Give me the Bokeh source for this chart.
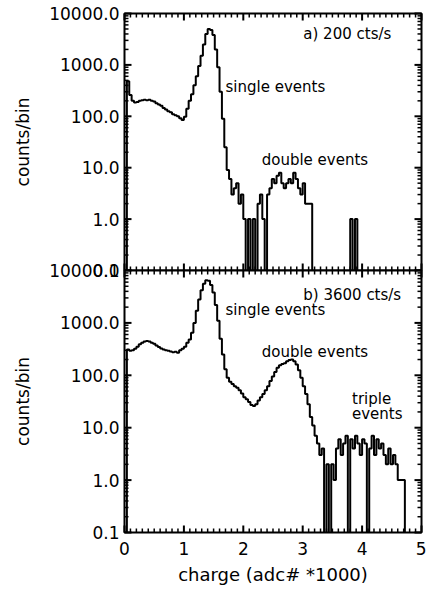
import numpy as np
from bokeh.plotting import figure
from bokeh.layouts import column
from bokeh.models import SingleIntervalTicker, LogTicker, CustomJSTickFormatter, ColumnDataSource
from bokeh.core.properties import value
from bokeh.embed import file_html
from bokeh.resources import INLINE

# Pulse-height histograms, charge in units of 1000 adc channels, bins of 0.04
BIN = 0.04
N_BINS = 125
edges = np.round(np.arange(N_BINS) * BIN, 2)

# a) 200 cts/s  -- counts per bin starting at charge 0.04
a_first = 0.04
a_counts = [480, 260, 200, 185, 190, 200, 205, 210, 205, 210,
            200, 195, 180, 170, 160, 145, 135, 125, 120, 110,
            105, 100, 92, 85, 98, 140, 200, 270, 400, 600,
            950, 1500, 2500, 4000, 5000, 4800, 3800, 2000, 900, 300,
            90, 25, 9, 6, 3, 4, 5, 2, 3, 1,
            0, 1, 0, 1, 0, 2, 3, 1, 0, 3,
            4, 6, 5, 7, 8, 5, 4, 5, 6, 5,
            8, 6, 4, 3, 5, 2, 2, 2, 0, 0,
            0, 0, 0, 0, 0, 0, 0, 0, 0, 0,
            0, 0, 0, 0, 1, 0, 1]

# b) 3600 cts/s -- counts per bin starting at charge 0.04
b_first = 0.04
b_counts = [310, 295, 300, 320, 350, 390, 420, 440, 450, 440,
            420, 400, 370, 345, 325, 310, 300, 295, 285, 275,
            280, 270, 300, 320, 350, 420, 480, 650, 1000, 1700,
            2800, 4200, 5600, 6500, 6400, 5300, 3800, 2200, 1100, 500,
            250, 130, 90, 75, 68, 62, 58, 52, 45, 38,
            35, 31, 27, 26, 28, 33, 38, 44, 52, 62,
            78, 95, 115, 140, 155, 165, 170, 185, 195, 200,
            185, 160, 125, 90, 62, 44, 28, 16, 11, 7,
            5, 3, 4, 0, 2, 0, 2, 1, 4, 6,
            3, 5, 7, 0, 6, 4, 7, 5, 3, 6,
            5, 0, 4, 7, 3, 6, 4, 5, 3, 2,
            4, 2, 3, 2, 1, 1, 1, 0]

FONT = "DejaVu Sans"
X_MIN, X_MAX = 0.0, 5.0
Y_MIN, Y_MAX = 0.1, 1e4
FRAME_W = 297

# tick positions for the inward tick marks on all four frame edges
x_major = [float(v) for v in range(0, 6)]
x_minor = [round(i * 0.1, 1) for i in range(1, 50) if i % 10 != 0]
y_major = [10.0 ** k for k in range(-1, 5)]
y_minor = [m * 10.0 ** k for k in range(-1, 4) for m in range(2, 10)]


def full_counts(first, counts):
    c = np.zeros(N_BINS)
    i0 = int(round(first / BIN))
    c[i0:i0 + len(counts)] = counts
    return c


def style_axis(ax):
    ax.axis_line_color = None
    ax.major_tick_in = 0
    ax.major_tick_out = 0
    ax.minor_tick_in = 0
    ax.minor_tick_out = 0
    ax.major_tick_line_color = None
    ax.minor_tick_line_color = None
    ax.major_label_text_font = FONT
    ax.major_label_text_color = "black"
    ax.axis_label_text_font = FONT
    ax.axis_label_text_font_style = "normal"
    ax.axis_label_text_color = "black"


def frame_ticks(p, frame_h):
    # inward tick marks as short segments, lengths given in pixels
    dx_per_px = (X_MAX - X_MIN) / FRAME_W
    dec_per_px = (np.log10(Y_MAX) - np.log10(Y_MIN)) / frame_h
    x0, y0, x1, y1, w = [], [], [], [], []
    for xs, length, lw in ((x_major, 7, 2.0), (x_minor, 4, 1.5)):
        f = float(10 ** (length * dec_per_px))
        for xv in xs:
            x0 += [xv, xv]; x1 += [xv, xv]
            y0 += [Y_MIN, Y_MAX]; y1 += [Y_MIN * f, Y_MAX / f]
            w += [lw, lw]
    for ys, length, lw in ((y_major, 7, 2.0), (y_minor, 4, 1.5)):
        d = float(length * dx_per_px)
        for yv in ys:
            x0 += [X_MIN, X_MAX]; x1 += [X_MIN + d, X_MAX - d]
            y0 += [yv, yv]; y1 += [yv, yv]
            w += [lw, lw]
    src = ColumnDataSource(dict(x0=x0, y0=y0, x1=x1, y1=y1, w=w))
    p.segment("x0", "y0", "x1", "y1", source=src, line_color="black",
              line_width="w", level="overlay")


def panel(counts, frame_h, top_border, bottom_border, x_labels):
    p = figure(frame_width=FRAME_W, frame_height=frame_h,
               x_range=(X_MIN, X_MAX), y_range=(Y_MIN, Y_MAX), y_axis_type="log",
               output_backend="svg", toolbar_location=None,
               x_axis_location="below" if x_labels else None,
               min_border_left=124, min_border_right=5,
               min_border_top=top_border, min_border_bottom=bottom_border)
    p.xgrid.visible = False
    p.ygrid.visible = False
    p.outline_line_color = "black"
    p.outline_line_width = 2
    p.border_fill_alpha = 0

    for ax in p.xaxis:
        style_axis(ax)
        ax.ticker = SingleIntervalTicker(interval=1)
        ax.major_label_text_font_size = "17px"
        ax.major_label_standoff = 9
        ax.axis_label = "charge (adc# *1000)"
        ax.axis_label_text_font_size = "18px"
        ax.axis_label_standoff = 6
    for ax in p.yaxis:
        style_axis(ax)
        ax.ticker = LogTicker()
        ax.formatter = CustomJSTickFormatter(code="return tick.toFixed(1)")
        ax.major_label_text_font_size = "17px"
        ax.major_label_standoff = 5
        ax.axis_label = "counts/bin"
        ax.axis_label_text_font_size = "17px"
        ax.axis_label_standoff = 13

    y = np.where(counts > 0, counts, 0.01)
    xs = np.append(edges, X_MAX)
    ys = np.append(y, y[-1])
    p.step(xs, ys, mode="after", line_color="black", line_width=2.0)
    frame_ticks(p, frame_h)
    return p


top = panel(full_counts(a_first, a_counts), 257, 13, 16, False)
top.text(x=[3.01, 1.70, 2.31], y=[4070, 370, 14],
         text=["a) 200 cts/s", "single events", "double events"],
         text_font=value(FONT), text_font_size="15px",
         text_baseline="middle", text_align="left", text_color="black")

bottom = panel(full_counts(b_first, b_counts), 262, 16, 59, True)
bottom.text(x=[3.01, 1.70, 2.31, 3.83, 3.83], y=[3450, 1740, 280, 35, 18],
            text=["b) 3600 cts/s", "single events", "double events", "triple", "events"],
            text_font=value(FONT), text_font_size="15px",
            text_baseline="middle", text_align="left", text_color="black")
bottom.styles = {"margin-top": "-32px"}

layout = column(top, bottom)
open("out.html", "w").write(file_html(layout, INLINE))
